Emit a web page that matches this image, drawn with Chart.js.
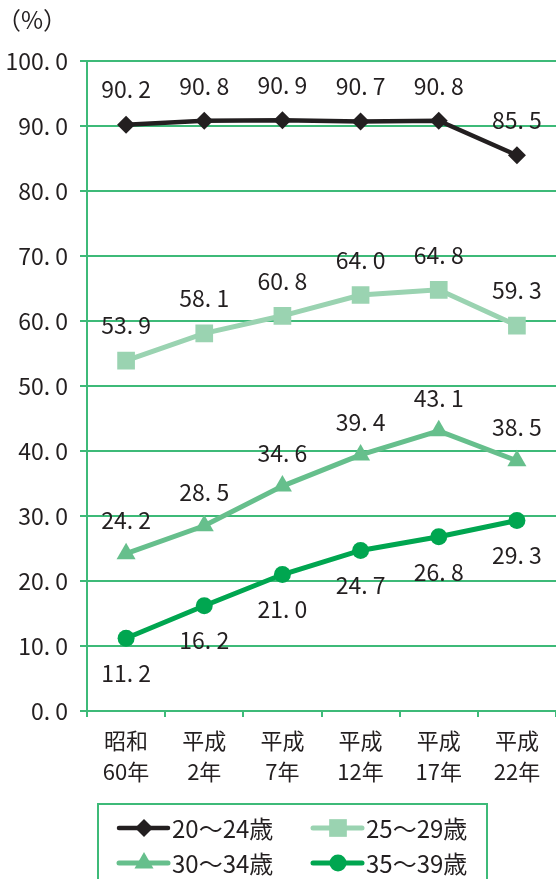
<!DOCTYPE html>
<html>
<head>
<meta charset="utf-8">
<script src="https://cdn.jsdelivr.net/npm/chart.js@4/dist/chart.umd.min.js"></script>
<style>
  html, body { margin: 0; padding: 0; background: #fff; }
  canvas { display: block; }
</style>
</head>
<body>
<canvas id="chart" width="556" height="879"></canvas>
<script>
const categories = [["昭和", "60年"], ["平成", "2年"], ["平成", "7年"], ["平成", "12年"], ["平成", "17年"], ["平成", "22年"]];
const seriesNames = ["20～24歳", "25～29歳", "30～34歳", "35～39歳"];
const age20to24 = [90.2, 90.8, 90.9, 90.7, 90.8, 85.5];
const age25to29 = [53.9, 58.1, 60.8, 64.0, 64.8, 59.3];
const age30to34 = [24.2, 28.5, 34.6, 39.4, 43.1, 38.5];
const age35to39 = [11.2, 16.2, 21.0, 24.7, 26.8, 29.3];
const yMin = 0, yMax = 100, yStep = 10;
const unitLabel = "（%）";

const FONT = "'Noto Sans CJK JP', sans-serif";
const GREEN = "#3dba78";
const TEXT = "#231f20";
const fmt = v => v.toFixed(1).replace(".", ". ");

const looks = [
  { color: "#231f20", style: "rectRot",  r: 9,    width: 4.5, labelDy: -35 },
  { color: "#9ad3b1", style: "rect",     r: 12.5, width: 5,   labelDy: -35 },
  { color: "#66bf8c", style: "triangle", r: 11,   width: 5,   labelDy: -33 },
  { color: "#00a650", style: "circle",   r: 8.5,  width: 5,   labelDy: 35 }
];
const values = [age20to24, age25to29, age30to34, age35to39];

// value labels above/below each point, plus the unit and the legend box
const extras = {
  id: "extras",
  afterDatasetsDraw(chart) {
    const ctx = chart.ctx;
    ctx.save();
    ctx.fillStyle = TEXT;
    ctx.font = "23px " + FONT;
    ctx.textAlign = "center";
    ctx.textBaseline = "middle";
    chart.data.datasets.forEach((ds, i) => {
      chart.getDatasetMeta(i).data.forEach((pt, j) => {
        ctx.fillText(fmt(ds.data[j]), pt.x, pt.y + looks[i].labelDy);
      });
    });

    ctx.textAlign = "left";
    ctx.font = "24px " + FONT;
    ctx.fillText(unitLabel, -3, 20);

    // legend
    ctx.strokeStyle = GREEN;
    ctx.lineWidth = 2;
    ctx.strokeRect(98, 804, 389, 100);
    const spots = [[119, 828], [313, 828], [119, 863], [313, 863]];
    seriesNames.forEach((name, i) => {
      const [x, y] = spots[i];
      const lk = looks[i];
      ctx.strokeStyle = lk.color;
      ctx.lineWidth = lk.width;
      ctx.lineCap = "round";
      ctx.beginPath();
      ctx.moveTo(x, y);
      ctx.lineTo(x + 49, y);
      ctx.stroke();
      ctx.fillStyle = lk.color;
      Chart.helpers.drawPoint(ctx, { pointStyle: lk.style, radius: lk.r, borderWidth: 0 }, x + 25, y);
      ctx.fillStyle = TEXT;
      ctx.font = "24px " + FONT;
      ctx.textAlign = "left";
      ctx.fillText(name, x + 53, y + 1);
    });
    ctx.restore();
  }
};

new Chart(document.getElementById("chart").getContext("2d"), {
  type: "line",
  data: {
    labels: categories,
    datasets: seriesNames.map((name, i) => ({
      label: name,
      data: values[i],
      borderColor: looks[i].color,
      backgroundColor: looks[i].color,
      borderWidth: looks[i].width,
      pointStyle: looks[i].style,
      pointRadius: looks[i].r,
      pointBorderWidth: 0,
      tension: 0
    }))
  },
  options: {
    responsive: false,
    animation: false,
    devicePixelRatio: 1,
    layout: { autoPadding: false, padding: { top: 61, right: 0, bottom: 90, left: 0 } },
    plugins: { legend: { display: false }, tooltip: { enabled: false } },
    scales: {
      x: {
        offset: true,
        grid: { offset: true, drawOnChartArea: false, color: GREEN, lineWidth: 2, tickLength: 6 },
        border: { color: GREEN, width: 2 },
        ticks: { color: TEXT, font: { family: FONT, size: 22, lineHeight: "31px" }, padding: 8, maxRotation: 0, autoSkip: false },
        afterFit(s) { s.height = 78; s.paddingLeft = 0; s.paddingRight = 0; }
      },
      y: {
        min: yMin, max: yMax,
        grid: { color: GREEN, lineWidth: 2, tickLength: 7 },
        border: { color: GREEN, width: 2 },
        ticks: { stepSize: yStep, color: TEXT, font: { family: FONT, size: 23 }, padding: 12, callback: v => fmt(v) },
        afterFit(s) { s.width = 87; }
      }
    }
  },
  plugins: [extras]
});
</script>
</body>
</html>
